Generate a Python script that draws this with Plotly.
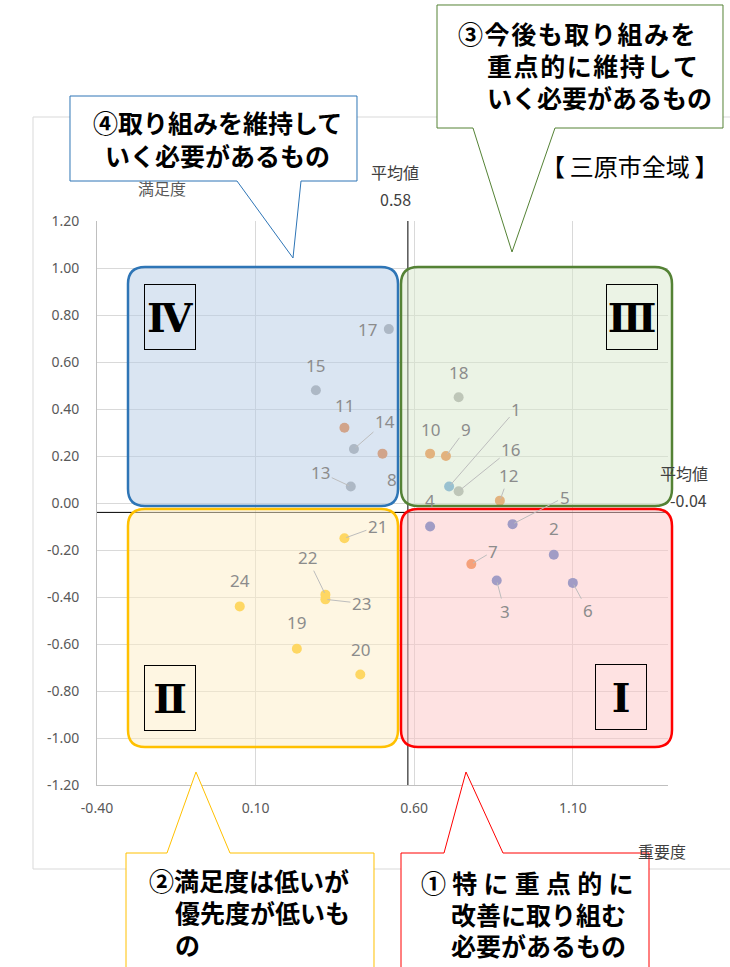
import plotly.graph_objects as go

# ---------------- data ----------------
ITEM_IDS = [1, 2, 3, 4, 5, 6, 7, 8, 9, 10, 11, 12,
            13, 14, 15, 16, 17, 18, 19, 20, 21, 22, 23, 24]
IMPORTANCE = [0.71, 1.04, 0.86, 0.65, 0.91, 1.10, 0.78, 0.50, 0.70, 0.65, 0.38, 0.87,
              0.40, 0.41, 0.29, 0.74, 0.52, 0.74, 0.23, 0.43, 0.38, 0.32, 0.32, 0.05]
SATISFACTION = [0.07, -0.22, -0.33, -0.10, -0.09, -0.34, -0.26, 0.21, 0.20, 0.21, 0.32, 0.01,
                0.07, 0.23, 0.48, 0.05, 0.74, 0.45, -0.62, -0.73, -0.15, -0.39, -0.41, -0.44]
GROUP = ["A", "B", "B", "B", "B", "B", "C", "C", "C", "C", "C", "C",
         "D", "D", "D", "D", "D", "D", "E", "E", "E", "E", "E", "E"]
AVG_IMPORTANCE = 0.58
AVG_SATISFACTION = -0.04
X_TICKS = [-0.40, 0.10, 0.60, 1.10]
X_MAX = 1.40
Y_TICKS = [1.20, 1.00, 0.80, 0.60, 0.40, 0.20, 0.00, -0.20, -0.40, -0.60, -0.80, -1.00, -1.20]

# ---------------- styles ----------------
GROUP_COLORS = {"A": "#5B9BD5", "B": "#4472C4", "C": "#ED7D31", "D": "#A5A5A5", "E": "#FFC000"}
# label offsets in pixels (dx, dy screen-down, leader line?)
LABEL_POS = {
    17: (-21, 0, False), 15: (0, -25, False), 11: (0, -22, False), 14: (31, -27, True),
    8: (9, 26, False), 13: (-30, -14, True), 18: (0, -25, False), 10: (0, -24, False),
    9: (20, -27, True), 1: (67, -77, True), 16: (52, -42, True), 12: (9, -25, True),
    4: (0, -26, False), 5: (52, -27, True), 2: (0, -26, False), 7: (22, -13, True),
    3: (8, 31, True), 6: (15, 28, True), 21: (33, -12, True), 22: (-18, -37, True),
    23: (36, 4, True), 24: (0, -26, False), 19: (0, -26, False), 20: (0, -25, False),
}

W, H = 730, 967
PL, PR, PT, PB = 97, 668, 221, 785


def px(x):
    return (x - PL) / (PR - PL)


def py(y):
    return (PB - y) / (PB - PT)


JP = "Noto Sans CJK JP"
NUM = "Noto Sans, Noto Sans CJK JP"

fig = go.Figure()

# average lines
fig.add_trace(go.Scatter(x=[AVG_IMPORTANCE, AVG_IMPORTANCE], y=[Y_TICKS[-1], Y_TICKS[0]],
                         mode="lines", line=dict(color="black", width=1),
                         hoverinfo="skip", showlegend=False))
fig.add_trace(go.Scatter(x=[X_TICKS[0], X_MAX], y=[AVG_SATISFACTION, AVG_SATISFACTION],
                         mode="lines", line=dict(color="black", width=1),
                         hoverinfo="skip", showlegend=False))

for g, col in GROUP_COLORS.items():
    xs = [x for x, gg in zip(IMPORTANCE, GROUP) if gg == g]
    ys = [y for y, gg in zip(SATISFACTION, GROUP) if gg == g]
    ids = [i for i, gg in zip(ITEM_IDS, GROUP) if gg == g]
    fig.add_trace(go.Scatter(x=xs, y=ys, mode="markers", text=ids,
                             marker=dict(size=10, color=col),
                             showlegend=False))

annotations = []
for i, x, y in zip(ITEM_IDS, IMPORTANCE, SATISFACTION):
    dx, dy, line = LABEL_POS[i]
    a = dict(x=x, y=y, xref="x", yref="y", text=str(i),
             font=dict(family=NUM, size=17, color="#8C8C8C"))
    if line:
        a.update(showarrow=True, ax=dx, ay=dy, arrowhead=0, arrowwidth=1,
                 arrowcolor="#BDBDBD", standoff=2)
    else:
        a.update(showarrow=False, xshift=dx, yshift=-dy)
    annotations.append(a)


def rounded(x0, y0, x1, y1, r):
    pts = [("M", (x0 + r, y0)), ("L", (x1 - r, y0)), ("Q", (x1, y0), (x1, y0 + r)),
           ("L", (x1, y1 - r)), ("Q", (x1, y1), (x1 - r, y1)), ("L", (x0 + r, y1)),
           ("Q", (x0, y1), (x0, y1 - r)), ("L", (x0, y0 + r)), ("Q", (x0, y0), (x0 + r, y0))]
    s = ""
    for p in pts:
        s += p[0] + " " + " ".join(f"{px(a):.5f},{py(b):.5f}" for a, b in p[1:]) + " "
    return s + "Z"


def poly(points):
    return "M " + " L ".join(f"{px(a):.5f},{py(b):.5f}" for a, b in points) + " Z"


shapes = []
# chart area border
shapes.append(dict(type="rect", xref="paper", yref="paper", x0=px(33), x1=px(745),
                   y0=py(117), y1=py(869), line=dict(color="#D9D9D9", width=1),
                   fillcolor="rgba(0,0,0,0)", layer="below"))
# quadrant boxes
QUADS = [
    ((128, 267, 398, 506), "rgba(181,203,229,0.5)", "#2E75B6"),
    ((401, 267, 672, 506), "rgba(215,231,203,0.5)", "#548235"),
    ((128, 509, 398, 747), "rgba(253,237,197,0.5)", "#FFC000"),
    ((401, 509, 672, 747), "rgba(253,197,197,0.5)", "#FF0000"),
]
for (x0, y0, x1, y1), fc, lc in QUADS:
    shapes.append(dict(type="path", xref="paper", yref="paper", path=rounded(x0, y0, x1, y1, 17),
                       fillcolor=fc, line=dict(color=lc, width=2.5), layer="above"))

# callouts
CALLOUTS = [
    ([(70, 96), (357, 96), (357, 181), (301, 181), (293, 258), (237, 181), (70, 181)], "#2E75B6"),
    ([(437, 5), (723, 5), (723, 128), (555, 128), (512, 252), (473, 128), (437, 128)], "#548235"),
    ([(126, 853), (167, 853), (196, 772), (230, 853), (374, 853), (374, 1000), (126, 1000)], "#FFC000"),
    ([(401, 853), (444, 853), (466, 772), (503, 853), (649, 853), (649, 1000), (401, 1000)], "#FF0000"),
]
for pts, lc in CALLOUTS:
    shapes.append(dict(type="path", xref="paper", yref="paper", path=poly(pts),
                       fillcolor="white", line=dict(color=lc, width=1), layer="above"))

SP = "\u200A"
SP2 = "\u2005"


def spaced(t, s):
    return s.join(list(t))


# callout texts (left x, center y)
CALLOUT_TEXT = [
    ("④取り組みを維持して", 91, 122), ("いく必要があるもの", 103, 155),
    (spaced("③今後も取り組みを", SP), 456, 33), (spaced("重点的に維持して", SP), 485, 65),
    ("いく必要があるもの", 485, 97),
    ("②満足度は低いが", 147, 880), ("優先度が低いも", 173, 912), ("の", 173, 944),
    (spaced("①特に重点的に", SP2), 419, 882), ("改善に取り組む", 449, 914), ("必要があるもの", 449, 945),
]
for t, x, y in CALLOUT_TEXT:
    annotations.append(dict(x=px(x), y=py(y), xref="paper", yref="paper", text=f"<b>{t}</b>",
                            showarrow=False, xanchor="left", yanchor="middle",
                            font=dict(family=JP, size=25, color="black")))

# roman numeral boxes (center x, center y)
ROMAN = [("Ⅳ", 170, 317), ("Ⅲ", 632, 317), ("Ⅱ", 170, 698), ("Ⅰ", 621, 697)]
for t, x, y in ROMAN:
    annotations.append(dict(x=px(x), y=py(y), xref="paper", yref="paper", text=f"<b>{t}</b>",
                            showarrow=False, xanchor="center", yanchor="middle",
                            width=50, height=64, borderwidth=1, bordercolor="black", borderpad=0,
                            font=dict(family="DejaVu Serif, Liberation Serif", size=40, color="black")))

# other texts
OTHER = [
    ("満足度", 162, 188, 16, "#595959"),
    ("平均値", 395, 172, 16, "#404040"),
    (f"{AVG_IMPORTANCE:.2f}", 395, 199, 16, "#404040"),
    ("【\u2009三原市全域\u2009】", 630, 165, 24, "black"),
    ("平均値", 684, 473, 16, "#404040"),
    (f"{AVG_SATISFACTION:.2f}", 688, 500, 16, "#404040"),
    ("重要度", 662, 851, 16, "#404040"),
]
for t, x, y, s, c in OTHER:
    annotations.append(dict(x=px(x), y=py(y), xref="paper", yref="paper", text=t,
                            showarrow=False, xanchor="center", yanchor="middle",
                            font=dict(family=JP, size=s, color=c)))

fig.update_layout(
    width=W, height=H, autosize=False,
    margin=dict(l=PL, r=W - PR, t=PT, b=H - PB),
    paper_bgcolor="white", plot_bgcolor="white",
    showlegend=False,
    shapes=shapes, annotations=annotations,
    xaxis=dict(range=[X_TICKS[0], X_MAX], tickmode="array", tickvals=X_TICKS,
               ticktext=[f"{v:.2f}" for v in X_TICKS],
               showgrid=True, gridcolor="#D9D9D9", gridwidth=1,
               showline=True, linecolor="#BFBFBF", linewidth=1, zeroline=False,
               ticks="", ticklabelstandoff=10,
               tickfont=dict(family=NUM, size=14, color="#595959")),
    yaxis=dict(range=[Y_TICKS[-1], Y_TICKS[0]], tickmode="array", tickvals=Y_TICKS,
               ticktext=[f"{v:.2f}" for v in Y_TICKS],
               showgrid=True, gridcolor="#D9D9D9", gridwidth=1,
               showline=True, linecolor="#BFBFBF", linewidth=1, zeroline=False,
               ticks="", ticklabelstandoff=14,
               tickfont=dict(family=NUM, size=14, color="#595959")),
)

fig.write_html("out.html", config={"displayModeBar": False},
               post_script="document.body.style.margin='0px';")
